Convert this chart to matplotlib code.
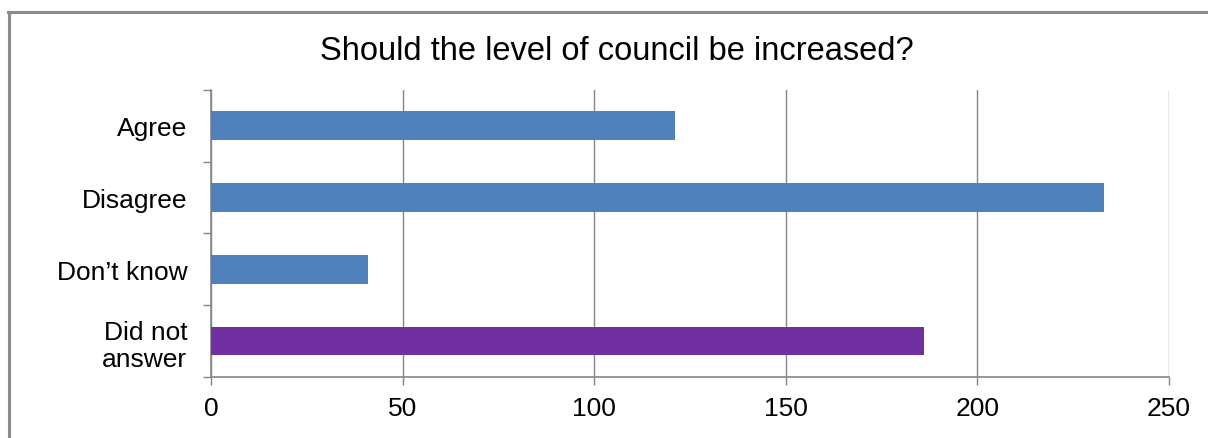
import matplotlib
matplotlib.use("Agg")
import matplotlib.pyplot as plt
from matplotlib.lines import Line2D

plt.rcParams['font.family'] = ['Liberation Sans', 'DejaVu Sans']

categories = ["Agree", "Disagree", "Don\u2019t know", "Did not\nanswer"]
counts = [121, 233, 41, 186]
bar_colors = ["#4F81BD", "#4F81BD", "#4F81BD", "#7030A0"]
x_ticks = [0, 50, 100, 150, 200, 250]
title = "Should the level of council be increased?"

W, H = 1208, 439
fig = plt.figure(figsize=(W / 100, H / 100), dpi=100)
fig.patch.set_facecolor("white")

# outer chart border (left and top edges visible)
border_col = "#8C8C8C"
fig.add_artist(Line2D([9 / W, 9 / W], [0, 1 - 12.5 / H], transform=fig.transFigure,
                      color=border_col, lw=2.2))
fig.add_artist(Line2D([8 / W, 1], [1 - 12.5 / H, 1 - 12.5 / H], transform=fig.transFigure,
                      color=border_col, lw=2.2))

ax = fig.add_axes([211 / W, 1 - 378 / H, (1169 - 211) / W, (378 - 90.7) / H])
ypos = list(range(len(categories)))
ax.barh(ypos, counts, height=0.4, color=bar_colors, zorder=3)

ax.set_xlim(x_ticks[0], x_ticks[-1])
ax.set_ylim(len(categories) - 0.5, -0.5)
ax.set_xticks(x_ticks)
ax.set_xticklabels([str(t) for t in x_ticks], fontsize=19)
ax.set_yticks(ypos)
ax.set_yticklabels(categories, fontsize=19, multialignment="right")
ax.set_yticks([i - 0.5 for i in range(len(categories) + 1)], minor=True)

grid_col = "#868686"
ax.grid(axis="x", color=grid_col, lw=1, zorder=0)
for s in ("top", "right"):
    ax.spines[s].set_visible(False)
for s in ("left", "bottom"):
    ax.spines[s].set_color(grid_col)
    ax.spines[s].set_linewidth(1.2)

ax.tick_params(axis="y", which="major", length=0, pad=17)
ax.tick_params(axis="y", which="minor", length=6, color=grid_col, width=1)
ax.tick_params(axis="x", which="major", length=6, color=grid_col, width=1, pad=8)

fig.text(617 / W, 1 - 51 / H, title, ha="center", va="center", fontsize=23.5)

fig.savefig("out.png", dpi=100)
